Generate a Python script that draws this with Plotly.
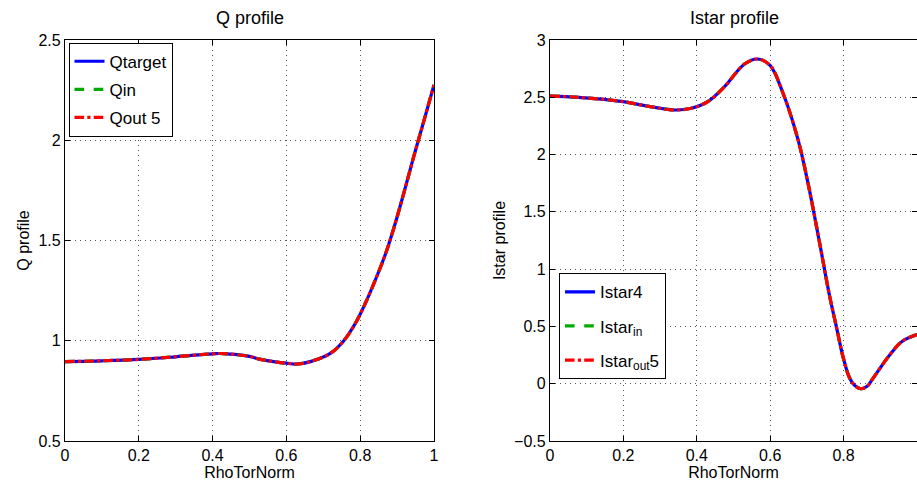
import plotly.graph_objects as go

# ---- data ----
q_x = [0, 0.1, 0.2, 0.3, 0.4, 0.43, 0.5, 0.53, 0.6, 0.63, 0.665, 0.719, 0.755, 0.787, 0.814, 0.841,
       0.868, 0.891, 0.918, 0.945, 0.972, 1.0]
q_target = [0.896, 0.9, 0.907, 0.92, 0.935, 0.936, 0.922, 0.907, 0.888, 0.884, 0.896, 0.937, 0.999, 1.087,
            1.187, 1.303, 1.43, 1.561, 1.735, 1.918, 2.093, 2.276]
q_in = list(q_target)
q_out5 = list(q_target)

istar_x = [0, 0.077, 0.2, 0.258, 0.34, 0.385, 0.43, 0.475, 0.53, 0.565, 0.599, 0.635, 0.676, 0.703, 0.733,
           0.762, 0.78, 0.798, 0.816, 0.83, 0.847, 0.865, 0.878, 0.923, 0.96, 1.0]
istar4 = [2.511, 2.5, 2.462, 2.427, 2.389, 2.404, 2.462, 2.59, 2.79, 2.834, 2.781, 2.535, 2.128, 1.751, 1.257,
          0.763, 0.502, 0.24, 0.052, -0.015, -0.044, -0.02, 0.037, 0.24, 0.371, 0.43]
istar_in = list(istar4)
istar_out5 = list(istar4)

x_ticks = [0, 0.2, 0.4, 0.6, 0.8, 1]
x_ticktext = ["0", "0.2", "0.4", "0.6", "0.8", "1"]
q_ticks = [0.5, 1, 1.5, 2, 2.5]
q_ticktext = ["0.5", "1", "1.5", "2", "2.5"]
istar_ticks = [-0.5, 0, 0.5, 1, 1.5, 2, 2.5, 3]
istar_ticktext = ["\u22120.5", "0", "0.5", "1", "1.5", "2", "2.5", "3"]

FONT = "Liberation Sans, Arial, Helvetica, sans-serif"
W, H = 917, 489
ML, MR, MT, MB = 0, 0, 40, 48
PH = H - MT - MB

fig = go.Figure()

styles = [
    dict(color="#0000ff", width=3.2, dash="solid"),
    dict(color="#00aa00", width=3.2, dash="dash"),
    dict(color="#ff0000", width=3.2, dash="dashdot"),
]

for i, (name, ys) in enumerate([("Qtarget", q_target), ("Qin", q_in), ("Qout 5", q_out5)]):
    fig.add_trace(go.Scatter(x=q_x, y=ys, mode="lines", name=name, line=dict(shape="spline", **styles[i]),
                             xaxis="x", yaxis="y", legend="legend", legendgroup="q%d" % i))

for i, (name, ys) in enumerate([("Istar4", istar4), ("Istar<sub>in</sub>", istar_in),
                                ("Istar<sub>out</sub>5", istar_out5)]):
    fig.add_trace(go.Scatter(x=istar_x, y=ys, mode="lines", name=name, line=dict(shape="spline", **styles[i]),
                             xaxis="x2", yaxis="y2", legend="legend2", legendgroup="i%d" % i))

axis_common = dict(showline=True, linecolor="black", linewidth=1.2, mirror="ticks", ticks="inside",
                   ticklen=5, tickcolor="black", showgrid=True, gridcolor="#555555", griddash="1px,4px",
                   gridwidth=1, zeroline=False, automargin=False,
                   tickfont=dict(family=FONT, size=16, color="black"),
                   title_font=dict(family=FONT, size=16, color="black"))

d1 = [65 / W, 434 / W]
d2 = [550 / W, 1.0]

fig.update_layout(
    width=W, height=H,
    margin=dict(l=ML, r=MR, t=MT, b=MB),
    paper_bgcolor="white", plot_bgcolor="white",
    font=dict(family=FONT, size=16, color="black"),
    xaxis=dict(domain=d1, range=[0, 1], tickvals=x_ticks, ticktext=x_ticktext,
               title=dict(text="RhoTorNorm", standoff=0), anchor="y", **axis_common),
    yaxis=dict(domain=[0, 1], range=[0.5, 2.5], tickvals=q_ticks, ticktext=q_ticktext,
               title=dict(text="Q profile", standoff=4), anchor="x", **axis_common),
    xaxis2=dict(domain=d2, range=[0, 1], tickvals=x_ticks, ticktext=x_ticktext,
                title=dict(text="RhoTorNorm", standoff=0), anchor="y2", **axis_common),
    yaxis2=dict(domain=[0, 1], range=[-0.5, 3], tickvals=istar_ticks, ticktext=istar_ticktext,
                title=dict(text="Istar profile", standoff=4), anchor="x2", **axis_common),
    legend=dict(x=68.5 / W, y=(H - MB - 42.7) / PH, xanchor="left", yanchor="top",
                bgcolor="white", bordercolor="black", borderwidth=1, tracegroupgap=3,
                font=dict(family=FONT, size=17, color="black")),
    legend2=dict(x=559 / W, y=(H - MB - 273.3) / PH, xanchor="left", yanchor="top",
                 bgcolor="white", bordercolor="black", borderwidth=1, tracegroupgap=9,
                 font=dict(family=FONT, size=17, color="black")),
    showlegend=True,
    annotations=[
        dict(text="Q profile", x=(d1[0] + d1[1]) / 2, y=1, xref="paper", yref="paper", xanchor="center",
             yanchor="bottom", yshift=10, showarrow=False, font=dict(family=FONT, size=18, color="black")),
        dict(text="Istar profile", x=(550 / W + 918 / W) / 2, y=1, xref="paper", yref="paper",
             xanchor="center", yanchor="bottom", yshift=10, showarrow=False,
             font=dict(family=FONT, size=18, color="black")),
    ],
)

fig.write_html("out.html", config={"displayModeBar": False},
               post_script="document.body.style.margin='0';document.body.style.overflow='hidden';")
